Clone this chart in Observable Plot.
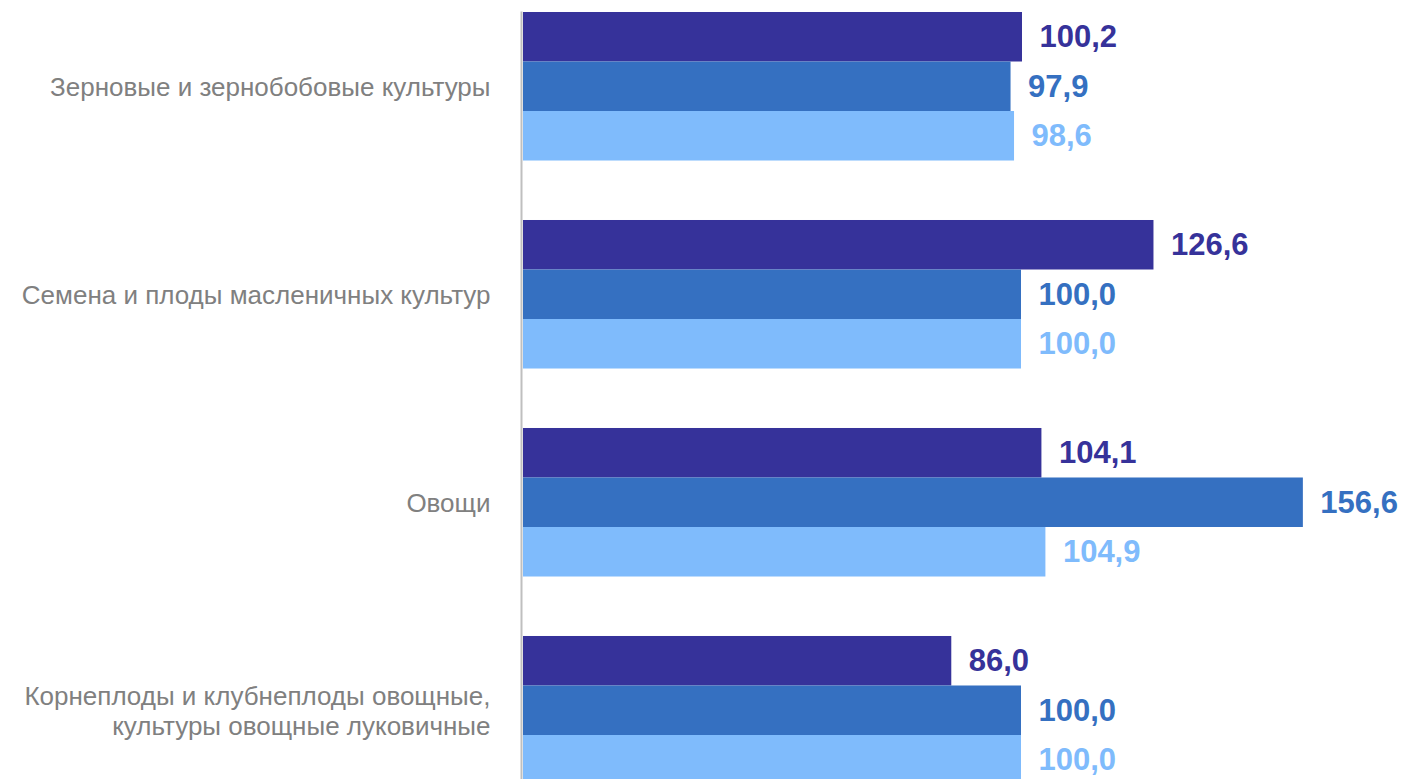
<!DOCTYPE html>
<html><head><meta charset="utf-8">
<script src="https://cdn.jsdelivr.net/npm/d3@7"></script>
<script src="https://cdn.jsdelivr.net/npm/@observablehq/plot@0.6"></script>
<style>
body{margin:0;background:#fff;overflow:hidden;}
#chart svg{overflow:visible;}
</style>
</head><body><div id="chart"></div>
<script>
const categories = [
  "Зерновые и зернобобовые культуры",
  "Семена и плоды масленичных культур",
  "Овощи",
  "Корнеплоды и клубнеплоды овощные,\nкультуры овощные луковичные"
];
const series = ["Ряд 1", "Ряд 2", "Ряд 3"];
const series1 = [100.2, 126.6, 104.1, 86.0];
const series2 = [97.9, 100.0, 156.6, 100.0];
const series3 = [98.6, 100.0, 104.9, 100.0];
const colors = ["#36329a", "#3570c1", "#7fbbfc"];

const valuesBySeries = [series1, series2, series3];
const data = categories.flatMap((c, i) =>
  series.map((s, j) => ({category: c, series: s, value: valuesBySeries[j][i]}))
);
const fmt = v => v.toFixed(1).replace(".", ",");

const chart = Plot.plot({
  width: 1402,
  height: 779,
  marginLeft: 523,
  marginRight: 0,
  marginTop: 23,
  marginBottom: 7,
  style: {fontFamily: "'Liberation Sans', Arial, sans-serif", background: "#fff"},
  x: {domain: [0, 100], range: [523, 1021], axis: null},
  fy: {domain: categories, range: [12, 784.5], paddingInner: 0.286, paddingOuter: 0, round: false, label: null},
  y: {domain: series, paddingInner: 0, paddingOuter: 0, round: false, axis: null},
  color: {domain: series, range: colors},
  marks: [
    Plot.frame({anchor: "left", facet: "super", stroke: "#bfbfbf", strokeWidth: 2, dx: -2}),
    Plot.barX(data, {fy: "category", y: "series", x: "value", fill: "series", inset: 0}),
    Plot.text(data, {
      fy: "category", y: "series", x: "value",
      text: d => fmt(d.value), fill: "series",
      textAnchor: "start", dx: 17, fontSize: 31, fontWeight: "bold"
    }),
    Plot.axisFy({
      anchor: "left", tickSize: 0, tickPadding: 33, fontSize: 26,
      fill: "#808080", label: null, lineHeight: 1.14
    })
  ]
});
document.getElementById("chart").appendChild(chart);
</script>
</body></html>
